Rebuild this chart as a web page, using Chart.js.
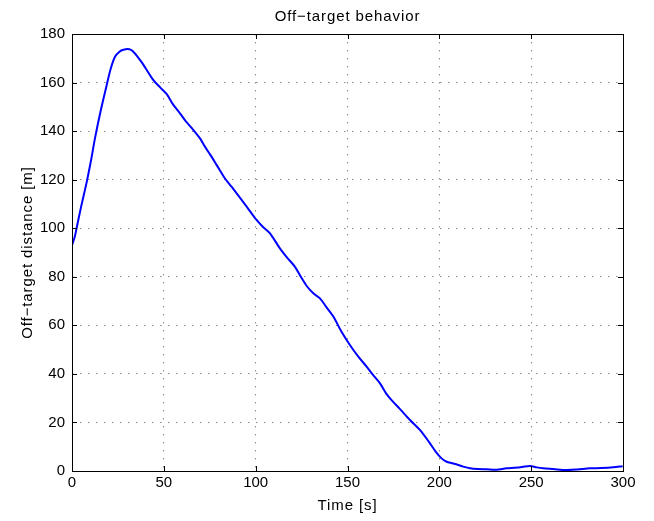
<!DOCTYPE html>
<html>
<head>
<meta charset="utf-8">
<title>Off-target behavior</title>
<script src="https://cdn.jsdelivr.net/npm/chart.js@4/dist/chart.umd.min.js"></script>
<style>
  html, body { margin: 0; padding: 0; background: #fff; }
  #wrap { width: 654px; height: 521px; }
</style>
</head>
<body>
<div id="wrap"><canvas id="chart" width="654" height="521"></canvas></div>
<script>
// time samples [s]
const timeS = [0, 1.5, 2.5, 5, 8, 10.5, 12.5, 15.5, 18.9, 21, 23.4, 26, 28, 30.5, 33, 37, 40, 44.3, 48, 51.5,
  55, 58.8, 62, 65.5, 69.7, 72.4, 75.5, 78.8, 83.3, 87, 91, 95.1, 100.5, 104, 107.8, 113.2, 117, 121.4, 125, 128,
  131.4, 135, 138.5, 142.3, 147, 151.3, 156, 160.4, 164, 167.7, 171, 174, 178.6, 184, 189.4, 194.9, 198, 201.2,
  204, 207, 210.3, 213, 216.7, 221, 225.8, 231, 236.6, 241, 245, 249.3, 253, 256.4, 262, 269.3, 275, 282, 288,
  294.7, 299.8];
// off-target distance [m]
const distanceM = [93, 96.5, 100, 109, 119, 128.5, 137, 148, 159, 165.5, 170.6, 172.8, 173.5, 173.8, 173, 169.3, 166,
  161, 158, 155.3, 151, 147.3, 144, 141, 137, 133.6, 130, 126, 120.5, 117, 113, 108.9, 103.4, 100.5, 97.9, 91.7,
  88, 84.1, 79.5, 76, 73.2, 71.1, 67.5, 63.6, 57, 51.9, 47, 43, 39.5, 36.1, 32, 29.2, 25.5, 21, 16.9, 11.4, 8,
  5.2, 3.8, 3.2, 2.5, 1.8, 1.1, 0.8, 0.7, 0.5, 1.1, 1.3, 1.6, 2.1, 1.5, 1.1, 0.8, 0.4, 0.6, 1.1, 1.2, 1.5, 2];

const xTicks = [0, 50, 100, 150, 200, 250, 300];
const yTicks = [0, 20, 40, 60, 80, 100, 120, 140, 160, 180];

const titleText = 'Off\u2212target behavior';
const xLabel = 'Time [s]';
const yLabel = 'Off\u2212target distance [m]';

const FONT = '"Liberation Sans", Arial, Helvetica, sans-serif';

// box around the axes, short inward tick marks on every side, and the three captions
const boxPlugin = {
  id: 'matlabBox',
  afterDraw(chart) {
    const { ctx, chartArea: a, scales } = chart;
    ctx.save();
    ctx.strokeStyle = '#000';
    ctx.lineWidth = 1;
    ctx.beginPath();
    const len = 5;
    xTicks.forEach(v => {
      const x = Math.round(scales.x.getPixelForValue(v)) + 0.5;
      ctx.moveTo(x, a.bottom); ctx.lineTo(x, a.bottom - len);
      ctx.moveTo(x, a.top); ctx.lineTo(x, a.top + len);
    });
    yTicks.forEach(v => {
      const y = Math.round(scales.y.getPixelForValue(v)) + 0.5;
      ctx.moveTo(a.left, y); ctx.lineTo(a.left + len, y);
      ctx.moveTo(a.right, y); ctx.lineTo(a.right - len, y);
    });
    ctx.stroke();
    ctx.strokeRect(Math.round(a.left) + 0.5, Math.round(a.top) + 0.5,
      Math.round(a.right - a.left), Math.round(a.bottom - a.top));

    // captions, a little letter-spaced
    ctx.fillStyle = '#000';
    ctx.font = '15px ' + FONT;
    ctx.letterSpacing = '0.9px';
    ctx.textAlign = 'center';
    ctx.textBaseline = 'alphabetic';
    const cx = (a.left + a.right) / 2;
    ctx.fillText(titleText, cx, 21);
    ctx.fillText(xLabel, cx, 510);
    ctx.translate(32, (a.top + a.bottom) / 2);
    ctx.rotate(-Math.PI / 2);
    ctx.fillText(yLabel, 0, 0);
    ctx.restore();
  }
};

new Chart(document.getElementById('chart'), {
  type: 'line',
  data: {
    datasets: [{
      data: timeS.map((t, i) => ({ x: t, y: distanceM[i] })),
      borderColor: '#0000ff',
      borderWidth: 2,
      pointRadius: 0,
      tension: 0.3,
      fill: false
    }]
  },
  options: {
    responsive: false,
    animation: false,
    layout: { padding: { left: 0, right: 31, top: 34, bottom: 0 } },
    plugins: {
      legend: { display: false },
      tooltip: { enabled: false },
      title: { display: false }
    },
    scales: {
      x: {
        type: 'linear',
        min: 0, max: 300,
        afterBuildTicks: s => { s.ticks = xTicks.map(v => ({ value: v })); },
        afterFit: s => { s.height = 50; },
        ticks: { color: '#000', font: { family: FONT, size: 15 }, padding: 3, maxRotation: 0 },
        grid: { color: '#8c8c8c', lineWidth: 1, drawTicks: false },
        border: { display: false, dash: [1.5, 6.5] }
      },
      y: {
        type: 'linear',
        min: 0, max: 180,
        afterBuildTicks: s => { s.ticks = yTicks.map(v => ({ value: v })); },
        afterFit: s => { s.width = 72; },
        ticks: { color: '#000', font: { family: FONT, size: 15 }, padding: 7 },
        grid: { color: '#8c8c8c', lineWidth: 1, drawTicks: false },
        border: { display: false, dash: [1.5, 6.5] }
      }
    }
  },
  plugins: [boxPlugin]
});
</script>
</body>
</html>
